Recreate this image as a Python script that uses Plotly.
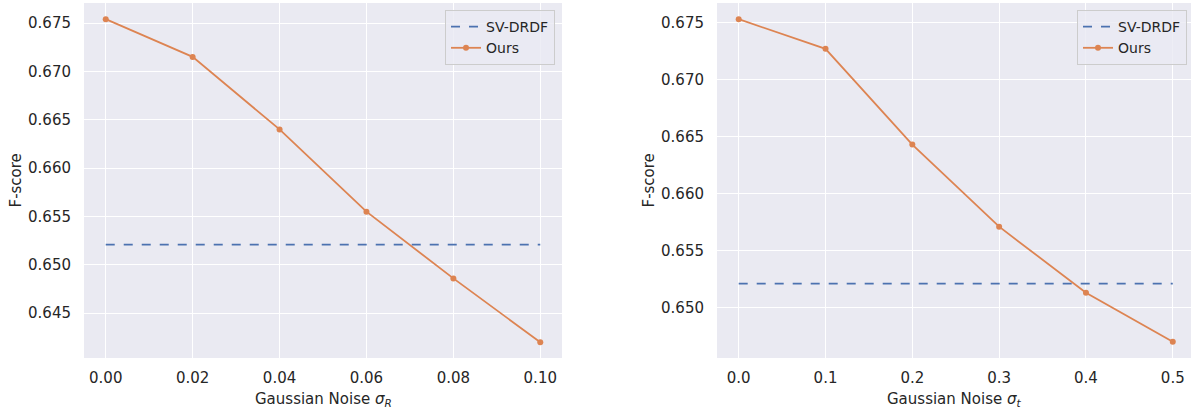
import plotly.graph_objects as go

# ---- data ----
noise_R = [0.00, 0.02, 0.04, 0.06, 0.08, 0.10]
ours_R = [0.6754, 0.6715, 0.6640, 0.6555, 0.6486, 0.6420]
noise_t = [0.0, 0.1, 0.2, 0.3, 0.4, 0.5]
ours_t = [0.6753, 0.6727, 0.6643, 0.6571, 0.6513, 0.6470]
sv_drdf = 0.6521

xticks_R = [0.00, 0.02, 0.04, 0.06, 0.08, 0.10]
xticktext_R = ["0.00", "0.02", "0.04", "0.06", "0.08", "0.10"]
yticks_R = [0.645, 0.650, 0.655, 0.660, 0.665, 0.670, 0.675]
xticks_t = [0.0, 0.1, 0.2, 0.3, 0.4, 0.5]
xticktext_t = ["0.0", "0.1", "0.2", "0.3", "0.4", "0.5"]
yticks_t = [0.650, 0.655, 0.660, 0.665, 0.670, 0.675]

BLUE = "#4C72B0"
ORANGE = "#DD8452"
BG = "#EAEAF2"
TXT = "#262626"
FONT = "DejaVu Sans"
FS = 15

fig = go.Figure()

# left panel
fig.add_trace(go.Scatter(x=[noise_R[0], noise_R[-1]], y=[sv_drdf, sv_drdf], mode="lines",
                         name="SV-DRDF", line=dict(color=BLUE, width=1.8, dash="dash"),
                         xaxis="x", yaxis="y", legend="legend"))
fig.add_trace(go.Scatter(x=noise_R, y=ours_R, mode="lines+markers", name="Ours",
                         line=dict(color=ORANGE, width=1.8), marker=dict(size=6, color=ORANGE),
                         xaxis="x", yaxis="y", legend="legend"))
# right panel
fig.add_trace(go.Scatter(x=[noise_t[0], noise_t[-1]], y=[sv_drdf, sv_drdf], mode="lines",
                         name="SV-DRDF", line=dict(color=BLUE, width=1.8, dash="dash"),
                         xaxis="x2", yaxis="y2", legend="legend2"))
fig.add_trace(go.Scatter(x=noise_t, y=ours_t, mode="lines+markers", name="Ours",
                         line=dict(color=ORANGE, width=1.8), marker=dict(size=6, color=ORANGE),
                         xaxis="x2", yaxis="y2", legend="legend2"))

W, H = 1191, 408
axcommon = dict(showgrid=True, gridcolor="white", gridwidth=1.2, zeroline=False,
                showline=False, ticks="", tickfont=dict(family=FONT, size=FS, color=TXT))

legcommon = dict(bgcolor="rgba(234,234,242,0.8)", bordercolor="#cccccc", borderwidth=1,
                 font=dict(family=FONT, size=14, color=TXT), xanchor="right", yanchor="top",
                 tracegroupgap=0, itemwidth=30)

fig.update_layout(
    width=W, height=H,
    margin=dict(l=0, r=0, t=3, b=50, autoexpand=False),
    paper_bgcolor="white", plot_bgcolor=BG,
    font=dict(family=FONT, size=FS, color=TXT),
    xaxis=dict(domain=[84 / W, 562 / W], range=[-0.005, 0.105], tickvals=xticks_R,
               ticktext=xticktext_R, anchor="y", ticklabelstandoff=9, **axcommon),
    yaxis=dict(domain=[0, 1], range=[0.64037, 0.67707], tickvals=yticks_R,
               ticktext=[f"{v:.3f}" for v in yticks_R], anchor="x", ticklabelstandoff=12,
               **axcommon),
    xaxis2=dict(domain=[717 / W, 1.0], range=[-0.025, 0.521], tickvals=xticks_t,
                ticktext=xticktext_t, anchor="y2", ticklabelstandoff=9, **axcommon),
    yaxis2=dict(domain=[0, 1], range=[0.64558, 0.67672], tickvals=yticks_t,
                ticktext=[f"{v:.3f}" for v in yticks_t], anchor="x2", ticklabelstandoff=12,
                **axcommon),
    legend=dict(x=555 / W, y=1 - 7 / 355, **legcommon),
    legend2=dict(x=1187 / W, y=1 - 7 / 355, **legcommon),
    annotations=[
        dict(text="F-score", x=15 / W, y=0.5, xref="paper", yref="paper", textangle=-90,
             xanchor="center", yanchor="middle", showarrow=False,
             font=dict(family=FONT, size=FS, color=TXT)),
        dict(text="F-score", x=648 / W, y=0.5, xref="paper", yref="paper", textangle=-90,
             xanchor="center", yanchor="middle", showarrow=False,
             font=dict(family=FONT, size=FS, color=TXT)),
        dict(text="Gaussian Noise <i>σ</i><sub><i>R</i></sub>", x=(84 + 562) / 2 / W, y=-41 / 355,
             xref="paper", yref="paper", showarrow=False, xanchor="center", yanchor="middle",
             font=dict(family=FONT, size=FS, color=TXT)),
        dict(text="Gaussian Noise <i>σ</i><sub><i>t</i></sub>", x=(717 + 1191) / 2 / W,
             y=-41 / 355, xref="paper", yref="paper", showarrow=False, xanchor="center",
             yanchor="middle", font=dict(family=FONT, size=FS, color=TXT)),
    ],
    showlegend=True,
)

fig.write_html("out.html", config={"displayModeBar": False},
               post_script="document.body.style.margin='0px';document.body.style.padding='0px';")
